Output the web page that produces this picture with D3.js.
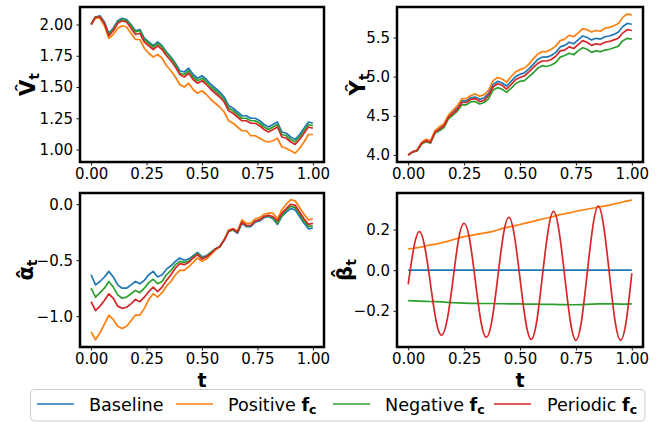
<!DOCTYPE html>
<html>
<head>
<meta charset="utf-8">
<script src="https://cdn.jsdelivr.net/npm/d3@7"></script>
<style>
body { margin: 0; background: #fff; }
text { font-family: "DejaVu Sans", sans-serif; }
</style>
</head>
<body>
<div id="chart"></div>
<script>
// sample times for the noisy paths (V, Y, alpha)
const tWalk = [0.00, 0.02, 0.04, 0.06, 0.08, 0.10, 0.12, 0.14, 0.16, 0.18,
  0.20, 0.22, 0.24, 0.26, 0.28, 0.30, 0.32, 0.34, 0.36, 0.38,
  0.40, 0.42, 0.44, 0.46, 0.48, 0.50, 0.52, 0.54, 0.56, 0.58,
  0.60, 0.62, 0.64, 0.66, 0.68, 0.70, 0.72, 0.74, 0.76, 0.78,
  0.80, 0.82, 0.84, 0.86, 0.88, 0.90, 0.92, 0.94, 0.96, 0.98, 1.00];

// sample times for beta
const tBeta = [0.000, 0.025, 0.050, 0.075, 0.100, 0.125, 0.150, 0.175, 0.200, 0.225,
  0.250, 0.275, 0.300, 0.325, 0.350, 0.375, 0.400, 0.425, 0.450, 0.475,
  0.500, 0.525, 0.550, 0.575, 0.600, 0.625, 0.650, 0.675, 0.700, 0.725,
  0.750, 0.775, 0.800, 0.825, 0.850, 0.875, 0.900, 0.925, 0.950, 0.975, 1.000];

const vBaseline = [2.00, 2.06, 2.07, 2.02, 1.93, 1.97, 2.03, 2.05, 2.04, 2.00,
  1.95, 1.96, 1.89, 1.86, 1.83, 1.86, 1.83, 1.78, 1.74, 1.69,
  1.63, 1.62, 1.65, 1.60, 1.57, 1.59, 1.56, 1.52, 1.49, 1.46,
  1.42, 1.35, 1.33, 1.30, 1.27, 1.27, 1.25, 1.25, 1.23, 1.20,
  1.18, 1.20, 1.22, 1.14, 1.13, 1.10, 1.08, 1.12, 1.17, 1.22, 1.21];
const vPositive = [2.00, 2.05, 2.05, 1.99, 1.89, 1.92, 1.97, 1.99, 1.98, 1.93,
  1.88, 1.88, 1.81, 1.77, 1.74, 1.76, 1.73, 1.67, 1.63, 1.58,
  1.52, 1.50, 1.53, 1.48, 1.45, 1.47, 1.44, 1.40, 1.37, 1.34,
  1.30, 1.23, 1.21, 1.18, 1.15, 1.15, 1.11, 1.11, 1.09, 1.07,
  1.06, 1.07, 1.09, 1.02, 1.01, 0.99, 0.97, 1.01, 1.06, 1.12, 1.12];
const vNegative = [2.00, 2.06, 2.06, 2.01, 1.92, 1.96, 2.02, 2.04, 2.03, 1.99,
  1.94, 1.95, 1.88, 1.85, 1.82, 1.85, 1.82, 1.77, 1.73, 1.68,
  1.61, 1.60, 1.63, 1.58, 1.55, 1.57, 1.54, 1.50, 1.47, 1.44,
  1.40, 1.33, 1.31, 1.28, 1.25, 1.25, 1.23, 1.23, 1.21, 1.18,
  1.16, 1.18, 1.20, 1.12, 1.11, 1.08, 1.06, 1.10, 1.15, 1.20, 1.19];
const vPeriodic = [2.00, 2.06, 2.06, 2.01, 1.91, 1.95, 2.01, 2.03, 2.02, 1.97,
  1.92, 1.93, 1.86, 1.83, 1.80, 1.83, 1.80, 1.75, 1.71, 1.66,
  1.60, 1.58, 1.61, 1.56, 1.53, 1.55, 1.52, 1.48, 1.45, 1.42,
  1.38, 1.31, 1.29, 1.26, 1.23, 1.23, 1.21, 1.21, 1.19, 1.16,
  1.14, 1.16, 1.18, 1.10, 1.09, 1.06, 1.04, 1.08, 1.13, 1.18, 1.17];

const yBaseline = [4.00, 4.04, 4.06, 4.15, 4.19, 4.17, 4.30, 4.34, 4.38, 4.49,
  4.55, 4.60, 4.69, 4.69, 4.73, 4.74, 4.71, 4.73, 4.79, 4.90,
  4.94, 4.92, 4.88, 4.94, 5.00, 5.03, 5.05, 5.10, 5.16, 5.22,
  5.25, 5.25, 5.27, 5.31, 5.38, 5.40, 5.44, 5.42, 5.47, 5.52,
  5.50, 5.47, 5.49, 5.48, 5.51, 5.52, 5.54, 5.57, 5.64, 5.68, 5.67];
const yPositive = [4.00, 4.04, 4.06, 4.16, 4.20, 4.18, 4.31, 4.36, 4.40, 4.51,
  4.57, 4.63, 4.72, 4.72, 4.76, 4.78, 4.75, 4.77, 4.83, 4.95,
  4.99, 4.97, 4.93, 5.00, 5.06, 5.09, 5.11, 5.16, 5.23, 5.29,
  5.32, 5.32, 5.35, 5.39, 5.46, 5.48, 5.53, 5.51, 5.56, 5.61,
  5.60, 5.57, 5.59, 5.58, 5.62, 5.63, 5.65, 5.68, 5.76, 5.80, 5.79];
const yNegative = [4.00, 4.04, 4.05, 4.14, 4.17, 4.15, 4.28, 4.31, 4.35, 4.46,
  4.51, 4.56, 4.64, 4.64, 4.68, 4.68, 4.65, 4.67, 4.72, 4.83,
  4.86, 4.84, 4.80, 4.85, 4.91, 4.94, 4.95, 5.00, 5.05, 5.11,
  5.14, 5.13, 5.15, 5.18, 5.25, 5.27, 5.30, 5.28, 5.33, 5.37,
  5.35, 5.31, 5.33, 5.32, 5.34, 5.35, 5.37, 5.39, 5.46, 5.49, 5.48];
const yPeriodic = [4.00, 4.04, 4.06, 4.15, 4.18, 4.16, 4.29, 4.33, 4.37, 4.48,
  4.53, 4.58, 4.67, 4.67, 4.71, 4.72, 4.68, 4.70, 4.76, 4.87,
  4.91, 4.89, 4.84, 4.90, 4.96, 4.99, 5.01, 5.06, 5.12, 5.17,
  5.20, 5.20, 5.22, 5.26, 5.33, 5.34, 5.38, 5.36, 5.41, 5.46,
  5.44, 5.40, 5.42, 5.41, 5.44, 5.45, 5.47, 5.49, 5.56, 5.60, 5.59];

const aBaseline = [-0.63, -0.72, -0.69, -0.65, -0.60, -0.65, -0.72, -0.75, -0.75, -0.72,
  -0.69, -0.71, -0.68, -0.63, -0.60, -0.65, -0.63, -0.58, -0.55, -0.51,
  -0.48, -0.50, -0.49, -0.46, -0.43, -0.47, -0.46, -0.43, -0.40, -0.38,
  -0.32, -0.24, -0.23, -0.26, -0.17, -0.20, -0.20, -0.16, -0.15, -0.12,
  -0.11, -0.13, -0.18, -0.11, -0.07, -0.04, -0.05, -0.11, -0.17, -0.22, -0.21];
const aPositive = [-1.14, -1.21, -1.15, -1.07, -0.99, -1.03, -1.09, -1.11, -1.09, -1.04,
  -0.99, -0.99, -0.93, -0.85, -0.80, -0.83, -0.79, -0.73, -0.69, -0.63,
  -0.59, -0.59, -0.56, -0.52, -0.48, -0.51, -0.49, -0.45, -0.41, -0.38,
  -0.32, -0.23, -0.22, -0.24, -0.14, -0.17, -0.17, -0.13, -0.12, -0.09,
  -0.08, -0.08, -0.13, -0.05, 0.00, 0.04, 0.03, -0.03, -0.09, -0.14, -0.13];
const aNegative = [-0.75, -0.83, -0.79, -0.75, -0.69, -0.74, -0.81, -0.84, -0.83, -0.80,
  -0.77, -0.79, -0.75, -0.70, -0.67, -0.71, -0.69, -0.63, -0.59, -0.54,
  -0.51, -0.52, -0.51, -0.47, -0.44, -0.48, -0.47, -0.43, -0.40, -0.38,
  -0.32, -0.24, -0.23, -0.25, -0.16, -0.19, -0.19, -0.15, -0.14, -0.11,
  -0.10, -0.12, -0.17, -0.10, -0.05, -0.02, -0.03, -0.09, -0.15, -0.20, -0.19];
const aPeriodic = [-0.87, -0.95, -0.91, -0.86, -0.80, -0.84, -0.91, -0.93, -0.92, -0.89,
  -0.85, -0.87, -0.83, -0.78, -0.74, -0.78, -0.74, -0.68, -0.63, -0.57,
  -0.53, -0.54, -0.52, -0.48, -0.45, -0.49, -0.47, -0.44, -0.40, -0.38,
  -0.32, -0.24, -0.22, -0.25, -0.16, -0.19, -0.19, -0.15, -0.14, -0.11,
  -0.10, -0.11, -0.15, -0.08, -0.04, 0.00, -0.01, -0.07, -0.13, -0.18, -0.17];

const bBaseline = [0, 0, 0, 0, 0, 0, 0, 0, 0, 0, 0, 0, 0, 0, 0, 0, 0, 0, 0, 0,
  0, 0, 0, 0, 0, 0, 0, 0, 0, 0, 0, 0, 0, 0, 0, 0, 0, 0, 0, 0, 0];
const bPositive = [0.105, 0.108, 0.112, 0.118, 0.125, 0.128, 0.135, 0.142, 0.150, 0.158,
  0.165, 0.170, 0.175, 0.180, 0.185, 0.190, 0.198, 0.207, 0.213, 0.218,
  0.225, 0.232, 0.238, 0.245, 0.252, 0.258, 0.265, 0.272, 0.278, 0.283,
  0.290, 0.295, 0.300, 0.305, 0.310, 0.315, 0.320, 0.327, 0.333, 0.340, 0.345];
const bNegative = [-0.150, -0.151, -0.152, -0.153, -0.154, -0.155, -0.156, -0.158, -0.160, -0.161,
  -0.162, -0.163, -0.163, -0.164, -0.164, -0.164, -0.165, -0.165, -0.166, -0.166,
  -0.166, -0.167, -0.167, -0.167, -0.168, -0.168, -0.168, -0.169, -0.169, -0.170,
  -0.170, -0.169, -0.168, -0.167, -0.166, -0.166, -0.166, -0.166, -0.167, -0.167, -0.166];
const bPeriodic = [-0.07, 0.11, 0.19, 0.11, -0.07, -0.25, -0.32, -0.24, -0.05, 0.15,
  0.23, 0.15, -0.05, -0.25, -0.33, -0.245, -0.04, 0.17, 0.26, 0.17,
  -0.04, -0.25, -0.34, -0.25, -0.03, 0.19, 0.29, 0.19, -0.03, -0.25,
  -0.345, -0.25, -0.02, 0.21, 0.315, 0.21, -0.02, -0.25, -0.345, -0.25, -0.015];

const xTicks = [0, 0.25, 0.5, 0.75, 1];
const seriesNames = ["Baseline", "Positive", "Negative", "Periodic"];
const colors = ["#1f77b4", "#ff7f0e", "#2ca02c", "#d62728"];

const width = 662, height = 422;

const svg = d3.select("#chart")
.append("svg")
.attr("width", width)
.attr("height", height);

function draw_panel(box, t, series, yDomain, yTicks, yFormat, label, labelX, showT, curves){
	const x = d3.scaleLinear()
	.domain([-0.05, 1.05])
	.range([box.x0, box.x1]);

	const y = d3.scaleLinear()
	.domain(yDomain)
	.range([box.y1, box.y0]);

	// lines, drawn in legend order so the red one ends up on top
	series.forEach((s, i) => {
		const line = d3.line()
		.x((d, j) => x(t[j]))
		.y(d => y(d))
		.curve(curves ? curves[i] : d3.curveLinear);

		svg.append("path")
		.datum(s)
		.attr("fill", "none")
		.attr("stroke", colors[i])
		.attr("stroke-width", 1.7)
		.attr("stroke-linejoin", "round")
		.attr("d", line);
	});

	const xAxis = svg.append("g")
	.attr("transform", `translate(0, ${box.y1})`)
	.call(d3.axisBottom(x).tickValues(xTicks).tickFormat(d3.format(".2f")).tickSize(3.5).tickPadding(3));

	const yAxis = svg.append("g")
	.attr("transform", `translate(${box.x0}, 0)`)
	.call(d3.axisLeft(y).tickValues(yTicks).tickFormat(d3.format(yFormat)).tickSize(3.5).tickPadding(3.5));

	[xAxis, yAxis].forEach(g => {
		g.select(".domain").remove();
		g.attr("font-family", "DejaVu Sans").attr("font-size", 15);
		g.selectAll("line").attr("stroke", "#000").attr("stroke-width", 0.9);
		g.selectAll("text").attr("fill", "#000");
	});

	svg.append("rect")
	.attr("x", box.x0)
	.attr("y", box.y0)
	.attr("width", box.x1 - box.x0)
	.attr("height", box.y1 - box.y0)
	.attr("fill", "none")
	.attr("stroke", "#000")
	.attr("stroke-width", 2.5);

	// y label: bold letter with a hat and subscript t, rotated
	const yl = svg.append("text")
	.attr("transform", `translate(${labelX}, ${(box.y0 + box.y1) / 2}) rotate(-90)`)
	.attr("text-anchor", "middle")
	.attr("font-weight", "bold")
	.attr("font-size", 21)
	.attr("fill", "#000");
	yl.append("tspan").text(label + "\u0302");
	yl.append("tspan").attr("font-size", 14).attr("dy", 4).text("t");

	if(showT){
		svg.append("text")
		.attr("x", (box.x0 + box.x1) / 2)
		.attr("y", 387)
		.attr("text-anchor", "middle")
		.attr("font-weight", "bold")
		.attr("font-size", 19)
		.attr("fill", "#000")
		.text("t");
	}
}

draw_panel({x0: 80, x1: 324, y0: 7, y1: 162}, tWalk,
	[vBaseline, vPositive, vNegative, vPeriodic],
	[0.90, 2.14], [1.00, 1.25, 1.50, 1.75, 2.00], ".2f", "V", 35, false);

draw_panel({x0: 397, x1: 643, y0: 7, y1: 162}, tWalk,
	[yBaseline, yPositive, yNegative, yPeriodic],
	[3.91, 5.89], [4.0, 4.5, 5.0, 5.5], ".1f", "Y", 365, false);

draw_panel({x0: 80, x1: 324, y0: 193, y1: 347}, tWalk,
	[aBaseline, aPositive, aNegative, aPeriodic],
	[-1.275, 0.10], [-1.0, -0.5, 0.0], ".1f", "\u03b1", 33, true);

draw_panel({x0: 397, x1: 643, y0: 193, y1: 347}, tBeta,
	[bBaseline, bPositive, bNegative, bPeriodic],
	[-0.378, 0.38], [-0.2, 0.0, 0.2], ".1f", "\u03b2", 352, true,
	[d3.curveLinear, d3.curveLinear, d3.curveLinear, d3.curveNatural]);

// legend
svg.append("rect")
.attr("x", 30.5)
.attr("y", 389.5)
.attr("width", 614.5)
.attr("height", 31.5)
.attr("rx", 4)
.attr("fill", "#fff")
.attr("stroke", "#cccccc")
.attr("stroke-width", 1);

const handleX = [37, 176, 333, 494];
const textX = [89, 228, 385, 547];

seriesNames.forEach((name, i) => {
	svg.append("line")
	.attr("x1", handleX[i])
	.attr("x2", handleX[i] + 37)
	.attr("y1", 404)
	.attr("y2", 404)
	.attr("stroke", colors[i])
	.attr("stroke-width", 1.7);

	const txt = svg.append("text")
	.attr("x", textX[i])
	.attr("y", 410.5)
	.attr("font-size", 17.6)
	.attr("fill", "#000");
	if(i == 0){
		txt.text(name);
	}
	else{
		txt.append("tspan").text(name + " ");
		txt.append("tspan").attr("font-weight", "bold").text("f");
		txt.append("tspan").attr("font-weight", "bold").attr("font-size", 12.5).attr("dy", 3).text("c");
	}
});
</script>
</body>
</html>
